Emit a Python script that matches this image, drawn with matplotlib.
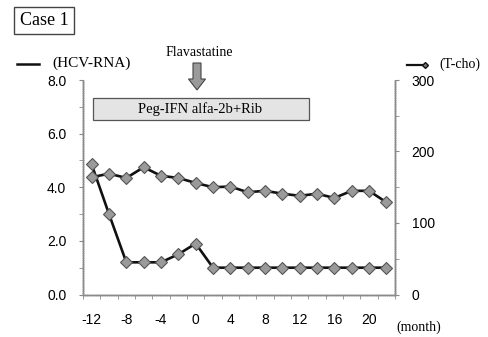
import matplotlib
matplotlib.use("Agg")
import matplotlib.pyplot as plt
from matplotlib.patches import FancyArrow, Rectangle
from matplotlib.lines import Line2D

months = [-12, -10, -8, -6, -4, -2, 0, 2, 4, 6, 8, 10, 12, 14, 16, 18, 20, 22]
hcv_rna = [4.85, 3.0, 1.2, 1.2, 1.2, 1.5, 1.9, 1.0, 1.0, 1.0, 1.0, 1.0, 1.0, 1.0, 1.0, 1.0, 1.0, 1.0]
t_cho = [164, 169, 163, 178, 166, 163, 156, 150, 151, 143, 145, 141, 138, 141, 135, 145, 145, 129]

x_tick_vals = [-12, -8, -4, 0, 4, 8, 12, 16, 20]
x_minor_vals = [-13, -11, -9, -7, -5, -3, -1, 1, 3, 5, 7, 9, 11, 13, 15, 17, 19, 21, 23]
left_ticks = [0, 2, 4, 6, 8]
right_ticks = [0, 100, 200, 300]

W, H = 489, 337
fig = plt.figure(figsize=(W / 100, H / 100), dpi=100)
ax = fig.add_axes([83 / W, 1 - 294.5 / H, (395 - 83) / W, (294.5 - 80) / H])
ax2 = ax.twinx()

sans = "Liberation Sans"
serif = "Liberation Serif"
spine_col = "#8a8a8a"

line_kw = dict(color="#111111", lw=1.9, marker="D", markersize=6.5,
               markerfacecolor="#9a9a9a", markeredgecolor="#555555", markeredgewidth=0.8)
ax.plot(months, hcv_rna, **line_kw, zorder=3)
ax2.plot(months, t_cho, **line_kw, zorder=3)

ax.set_xlim(-13, 23)
ax.set_ylim(0, 8)
ax2.set_ylim(0, 300)

ax.set_xticks(x_tick_vals)
ax.set_xticklabels([str(v) for v in x_tick_vals], fontsize=10, family=sans)
ax.set_xticks(x_minor_vals, minor=True)
ax.tick_params(axis="x", which="major", length=0, pad=13)
ax.tick_params(axis="x", which="minor", length=3, direction="out", color=spine_col)

ax.set_yticks(left_ticks)
ax.set_yticklabels([f"{v:.1f}" for v in left_ticks], fontsize=10, family=sans)
ax.set_yticks([1, 3, 5, 7], minor=True)
ax.tick_params(axis="y", which="both", length=3, direction="out", color=spine_col, pad=9)

ax2.set_yticks(right_ticks)
ax2.set_yticklabels([str(v) for v in right_ticks], fontsize=10, family=sans)
ax2.set_yticks([50, 150, 250], minor=True)
ax2.tick_params(axis="y", which="both", length=3, direction="out", color=spine_col, pad=9)

for a in (ax, ax2):
    a.spines["top"].set_visible(False)
    for s in ("left", "right", "bottom"):
        a.spines[s].set_color(spine_col)
        a.spines[s].set_linewidth(1.0)
        a.spines[s].set_linestyle((0, (1, 0.6)))
    a.patch.set_visible(False)

# Treatment box
fig.patches.append(Rectangle((93 / W, 1 - 120 / H), (309 - 93) / W, (120 - 98) / H,
                             transform=fig.transFigure, facecolor="#e4e4e4",
                             edgecolor="#555555", lw=0.9, zorder=1))
fig.text(200 / W, 1 - 109 / H, "Peg-IFN alfa-2b+Rib", family=serif, fontsize=10.5,
         ha="center", va="center")

# Flavastatine arrow
fig.text(199.5 / W, 1 - 52 / H, "Flavastatine", family=serif, fontsize=10,
         ha="center", va="center")
fig.patches.append(FancyArrow(197 / W, 1 - 63 / H, 0, -(90 - 63) / H,
                              width=8 / W, head_width=17 / W, head_length=11 / H,
                              length_includes_head=True, transform=fig.transFigure,
                              facecolor="#9a9a9a", edgecolor="#444444", lw=0.8))

# Case box
fig.text(44 / W, 1 - 20.5 / H, "Case 1", family=serif, fontsize=13, ha="center", va="center",
         bbox=dict(boxstyle="square,pad=0.3", facecolor="white", edgecolor="#444444", lw=1.0))

# Legend labels
fig.add_artist(Line2D([17 / W, 39 / W], [1 - 64.3 / H, 1 - 64.3 / H], color="#111111", lw=1.8,
                      transform=fig.transFigure))
fig.text(52 / W, 1 - 63.5 / H, "(HCV-RNA)", family=serif, fontsize=11, ha="left", va="center")
fig.add_artist(Line2D([407 / W, 425 / W], [1 - 64.5 / H, 1 - 64.5 / H], color="#111111", lw=1.6,
                      marker="D", markersize=3, markevery=[1], markerfacecolor="#777777",
                      transform=fig.transFigure))
fig.text(439 / W, 1 - 64.5 / H, "(T-cho)", family=serif, fontsize=10, ha="left", va="center")

fig.text(419 / W, 1 - 327 / H, "(month)", family=serif, fontsize=10, ha="center", va="center")

fig.savefig("out.png", dpi=100)
